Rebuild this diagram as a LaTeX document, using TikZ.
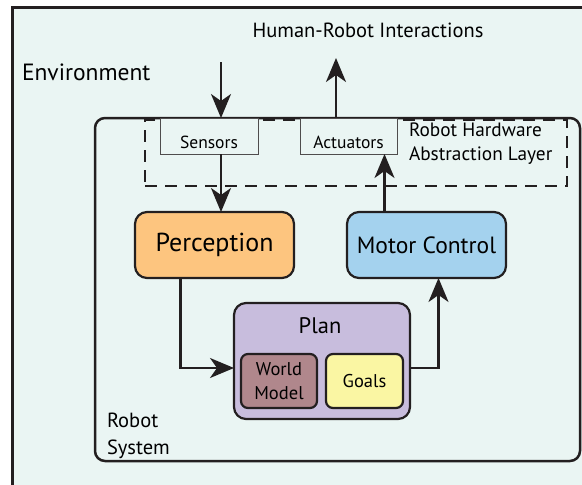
\documentclass[tikz,border=0pt]{standalone}
\usepackage{fontspec}
\setmainfont{PT Sans}
\usetikzlibrary{arrows.meta, positioning}
\definecolor{bgcol}{RGB}{234,245,243}
\definecolor{linecol}{RGB}{35,31,32}
\definecolor{perccol}{RGB}{253,197,127}
\definecolor{motorcol}{RGB}{164,210,238}
\definecolor{plancol}{RGB}{200,189,221}
\definecolor{worldcol}{RGB}{176,135,140}
\definecolor{goalcol}{RGB}{250,246,163}
\tikzset{
	block/.style={draw=linecol, line width=2.2pt, rounded corners=12pt},
	smallblock/.style={draw=linecol, line width=2.2pt, rounded corners=7pt},
	hwbox/.style={draw=linecol!80, line width=0.8pt, fill=bgcol},
	selection/.style={draw=linecol, line width=2.2pt, dash pattern=on 12pt off 8pt},
	flow/.style={draw=linecol, line width=2.2pt, -{Stealth[length=24pt,width=20pt,inset=7pt]}}
}

\begin{document}
\begin{tikzpicture}[x=1pt, y=-1pt, inner sep=0pt, outer sep=0pt]
		\useasboundingbox (0,0) rectangle (582,485);
		\fill[bgcol] (12,7) rectangle (590,490);
		\draw[linecol, line width=3pt] (12,495) -- (12,7) -- (590,7);
		
		\node[anchor=west, font=\fontsize{23.5}{28}\selectfont] (env) at (22,72) {Environment};
		\node[font=\fontsize{20.5}{24}\selectfont] (hri) at (368,30) {Human-Robot Interactions};
		
		\node[draw=linecol, line width=2.5pt, rounded corners=10pt, minimum width=485, minimum height=343] (robot) at (337.5,289.5) {};
		\node[align=left, anchor=south west, font=\fontsize{20.5}{27}\selectfont] (robotlbl) at (107,459) {Robot \\ System};
		
		\node[selection, minimum width=422, minimum height=66] (hal) at (356,153) {};
		\node[align=left, anchor=west, font=\fontsize{19.3}{24}\selectfont] (hallbl) at (409,144) {Robot Hardware \\ Abstraction Layer};
		
		\node[hwbox, minimum width=98, minimum height=36, text height=26pt, text depth=2pt, font=\fontsize{17.5}{20}\selectfont] (sens) at (209,136) {Sensors};
		\node[hwbox, minimum width=97, minimum height=36, text height=26pt, text depth=2pt, font=\fontsize{17.5}{20}\selectfont] (act) at (348.5,136) {Actuators};
		
		\node[block, fill=perccol, minimum width=159, minimum height=66, font=\fontsize{26}{30}\selectfont] (perc) at (214.5,245) {Perception};
		\node[block, fill=motorcol, minimum width=159, minimum height=66, font=\fontsize{23.5}{28}\selectfont] (motor) at (426.5,245) {Motor Control};
		
		\node[block, fill=plancol, minimum width=176, minimum height=116] (plan) at (322,361) {};
		\node[font=\fontsize{22.5}{26}\selectfont] (plantxt) at (320,326) {Plan};
		\node[smallblock, fill=worldcol, minimum width=76, minimum height=54, align=center, font=\fontsize{18.5}{24}\selectfont] (world) at (279,381) {World \\ Model};
		\node[smallblock, fill=goalcol, minimum width=77, minimum height=54, font=\fontsize{18.5}{22}\selectfont] (goals) at (364.5,381) {Goals};
		
		\coordinate (envtop) at (221,62);
		\coordinate (hritop) at (336,58);
		
		\draw[flow] (envtop) -- (envtop |- sens.north);
		\draw[flow] (hritop |- act.north) -- (hritop);
		\draw[flow] ([xshift=12]sens.south) -- ([xshift=12]sens.south |- perc.north);
		\draw[flow] ([xshift=-42]motor.north) -- ([xshift=-42]motor.north |- act.south);
		\draw[flow] ([xshift=-34]perc.south) |- ([yshift=-7]plan.west);
		\draw[flow] ([yshift=-7]plan.east) -| ([xshift=12]motor.south);
	\end{tikzpicture}
\end{document}
